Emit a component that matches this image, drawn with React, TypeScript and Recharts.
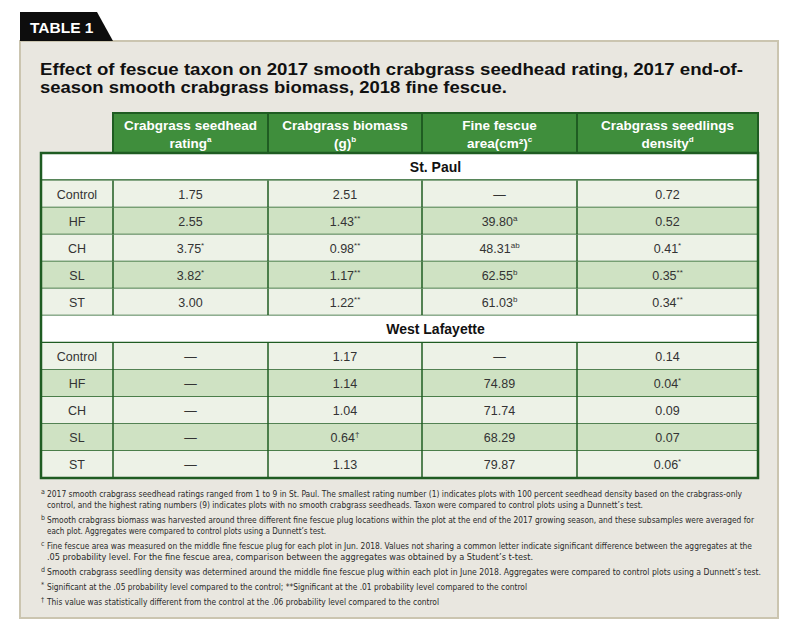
import { Surface, Layer, Rectangle, Polygon, Text } from "recharts";

// ---- table content ----
const tableLabel = "TABLE 1";
const titleLines = [
  "Effect of fescue taxon on 2017 smooth crabgrass seedhead rating, 2017 end-of-",
  "season smooth crabgrass biomass, 2018 fine fescue.",
];
const headers = [
  { line1: "Crabgrass seedhead", line2: "rating", sup: "a" },
  { line1: "Crabgrass biomass", line2: "(g)", sup: "b" },
  { line1: "Fine fescue", line2: "area(cm\u00b2)", sup: "c" },
  { line1: "Crabgrass seedlings", line2: "density", sup: "d" },
];
const treatments = ["Control", "HF", "CH", "SL", "ST"];

const stPaulRating = [1.75, 2.55, 3.75, 3.82, 3.0];
const stPaulRatingSig = ["", "", "*", "*", ""];
const stPaulBiomass = [2.51, 1.43, 0.98, 1.17, 1.22];
const stPaulBiomassSig = ["", "**", "**", "**", "**"];
const stPaulFescue = [null, 39.8, 48.31, 62.55, 61.03];
const stPaulFescueSig = ["", "a", "ab", "b", "b"];
const stPaulDensity = [0.72, 0.52, 0.41, 0.35, 0.34];
const stPaulDensitySig = ["", "", "*", "**", "**"];

const wlRating = [null, null, null, null, null];
const wlRatingSig = ["", "", "", "", ""];
const wlBiomass = [1.17, 1.14, 1.04, 0.64, 1.13];
const wlBiomassSig = ["", "", "", "\u2020", ""];
const wlFescue = [null, 74.89, 71.74, 68.29, 79.87];
const wlFescueSig = ["", "", "", "", ""];
const wlDensity = [0.14, 0.04, 0.09, 0.07, 0.06];
const wlDensitySig = ["", "*", "", "", "*"];

const sections = [
  {
    name: "St. Paul",
    cols: [stPaulRating, stPaulBiomass, stPaulFescue, stPaulDensity],
    sigs: [stPaulRatingSig, stPaulBiomassSig, stPaulFescueSig, stPaulDensitySig],
  },
  {
    name: "West Lafayette",
    cols: [wlRating, wlBiomass, wlFescue, wlDensity],
    sigs: [wlRatingSig, wlBiomassSig, wlFescueSig, wlDensitySig],
  },
];

const footMarks = ["a", "b", "c", "d", "*", "\u2020"];
const footTexts = [
  [
    "2017 smooth crabgrass seedhead ratings ranged from 1 to 9 in St. Paul. The smallest rating number (1) indicates plots with 100 percent seedhead density based on the crabgrass-only",
    "control, and the highest rating numbers (9) indicates plots with no smooth crabgrass seedheads. Taxon were compared to control plots using a Dunnett\u2019s test.",
  ],
  [
    "Smooth crabgrass biomass was harvested around three different fine fescue plug locations within the plot at the end of the 2017 growing season, and these subsamples were averaged for",
    "each plot. Aggregates were compared to control plots using a Dunnett\u2019s test.",
  ],
  [
    "Fine fescue area was measured on the middle fine fescue plug for each plot in Jun. 2018. Values not sharing a common letter indicate significant difference between the aggregates at the",
    ".05 probability level. For the fine fescue area, comparison between the aggregates was obtained by a Student\u2019s t-test.",
  ],
  [
    "Smooth crabgrass seedling density was determined around the middle fine fescue plug within each plot in June 2018. Aggregates were compared to control plots using a Dunnett\u2019s test.",
  ],
  [
    "Significant at the .05 probability level compared to the control; **Significant at the .01 probability level compared to the control",
  ],
  ["This value was statistically different from the control at the .06 probability level compared to the control"],
];

// ---- layout ----
const W = 800;
const H = 639;
const FONT = "'Liberation Sans', Arial, sans-serif";
const NARROW = "'Liberation Sans Narrow', 'DejaVu Sans Condensed', 'Liberation Sans', sans-serif";
const GREEN = "#3f8e3c";
const DARK = "#1f5c22";
const ROW_LIGHT = "#edf2e7";
const ROW_DARK = "#cfe2c3";
const colEdges = [113, 268, 422, 577, 758];
const tableLeft = 41;
const headerTop = 113;
const headerBottom = 153;
const sectionH = 27.5;
const rowH = 27;
// right end of each footnote line (text starts at x=47)
const footLineEnds = [[742, 643], [754, 326], [752, 533], [761], [527], [439]];

const fmt = (v: number | null) => (v == null ? "\u2014" : v.toFixed(2));

const CellText = ({ x, y, value, sup }: { x: number; y: number; value: string; sup: string }) => (
  <text x={x} y={y} textAnchor="middle" fontFamily={FONT} fontSize={12.5} fill="#333">
    {value}
    {sup && (
      <tspan fontSize={8} dy={-5}>
        {sup}
      </tspan>
    )}
  </text>
);

export default function App() {
  let y = headerBottom;
  const blocks: any[] = [];
  sections.forEach((sec, si) => {
    const secTop = y;
    blocks.push(
      <Layer key={`sec${si}`}>
        <Rectangle x={tableLeft} y={secTop} width={colEdges[4] - tableLeft} height={sectionH} fill="#ffffff" />
        <Text
          x={(colEdges[0] + colEdges[4]) / 2}
          y={secTop + sectionH / 2}
          textAnchor="middle"
          verticalAnchor="middle"
          fontFamily={FONT}
          fontSize={14}
          fontWeight="bold"
          fill="#111"
        >
          {sec.name}
        </Text>
        <line x1={tableLeft} x2={colEdges[4]} y1={secTop + sectionH} y2={secTop + sectionH} stroke={DARK} strokeWidth={2.5} />
      </Layer>
    );
    y += sectionH;
    treatments.forEach((t, ri) => {
      const top = y + ri * rowH;
      const cy = top + rowH / 2 + 4.5;
      blocks.push(
        <Layer key={`r${si}-${ri}`}>
          <Rectangle
            x={tableLeft}
            y={top}
            width={colEdges[4] - tableLeft}
            height={rowH}
            fill={ri % 2 === 1 ? ROW_DARK : ROW_LIGHT}
          />
          <line x1={tableLeft} x2={colEdges[4]} y1={top + rowH} y2={top + rowH} stroke={DARK} strokeWidth={1.5} />
          {colEdges.slice(0, 4).map((ex) => (
            <line key={ex} x1={ex} x2={ex} y1={top} y2={top + rowH} stroke={DARK} strokeWidth={1.5} />
          ))}
          <CellText x={(tableLeft + colEdges[0]) / 2} y={cy} value={t} sup="" />
          {sec.cols.map((col, ci) => (
            <CellText
              key={ci}
              x={(colEdges[ci] + colEdges[ci + 1]) / 2}
              y={cy}
              value={fmt(col[ri])}
              sup={sec.sigs[ci][ri]}
            />
          ))}
        </Layer>
      );
    });
    y += treatments.length * rowH;
  });
  const tableBottom = y;

  // footnotes
  const footEls: any[] = [];
  let fy = 496.5;
  footTexts.forEach((lines, fi) => {
    footEls.push(
      <text key={`m${fi}`} x={41} y={fy - 3} fontFamily={NARROW} fontSize={7} fill="#333">
        {footMarks[fi]}
      </text>
    );
    lines.forEach((ln, li) => {
      footEls.push(
        <text
          key={`f${fi}-${li}`}
          x={47}
          y={fy}
          fontFamily={NARROW}
          fontSize={8.5}
          fill="#2a2a2a"
          textLength={footLineEnds[fi][li] - 47}
          lengthAdjust="spacingAndGlyphs"
        >
          {ln}
        </text>
      );
      fy += li < lines.length - 1 ? 11 : 15;
    });
  });

  return (
    <div style={{ position: "absolute", left: 0, top: 0, background: "#fff" }}>
      <Surface width={W} height={H}>
        <Rectangle x={0} y={0} width={W} height={H} fill="#ffffff" />
        {/* panel */}
        <Rectangle x={20} y={41} width={758} height={577} fill="#e9e7e0" stroke="#cbc5b0" strokeWidth={2} />
        <Polygon
          points={[
            { x: 20, y: 12 },
            { x: 97, y: 12 },
            { x: 113, y: 41 },
            { x: 20, y: 41 },
          ]}
          fill="#0d0d0d"
        />
        <Text x={30} y={27} verticalAnchor="middle" fontFamily={FONT} fontSize={15.5} fontWeight="bold" fill="#fff">
          {tableLabel}
        </Text>
        {/* title */}
        <text x={40} y={75} fontFamily={FONT} fontSize={17} fontWeight="bold" fill="#111" textLength={703} lengthAdjust="spacingAndGlyphs">
          {titleLines[0]}
        </text>
        <text x={40} y={93} fontFamily={FONT} fontSize={17} fontWeight="bold" fill="#111" textLength={467} lengthAdjust="spacingAndGlyphs">
          {titleLines[1]}
        </text>
        {/* header */}
        {headers.map((h, i) => {
          const x0 = colEdges[i];
          const x1 = colEdges[i + 1];
          const cx = (x0 + x1) / 2;
          return (
            <Layer key={`h${i}`}>
              <Rectangle x={x0} y={headerTop} width={x1 - x0} height={headerBottom - headerTop} fill={GREEN} stroke={DARK} strokeWidth={2} />
              <text x={cx} y={130} textAnchor="middle" fontFamily={FONT} fontSize={13.5} fontWeight="bold" fill="#fff">
                {h.line1}
              </text>
              <text x={cx} y={148} textAnchor="middle" fontFamily={FONT} fontSize={13.5} fontWeight="bold" fill="#fff">
                {h.line2}
                <tspan fontSize={8} dy={-6}>
                  {h.sup}
                </tspan>
              </text>
            </Layer>
          );
        })}
        {blocks}
        <Rectangle
          x={tableLeft}
          y={headerBottom}
          width={colEdges[4] - tableLeft}
          height={tableBottom - headerBottom}
          fill="none"
          stroke={DARK}
          strokeWidth={2.5}
        />
        {footEls}
      </Surface>
    </div>
  );
}
